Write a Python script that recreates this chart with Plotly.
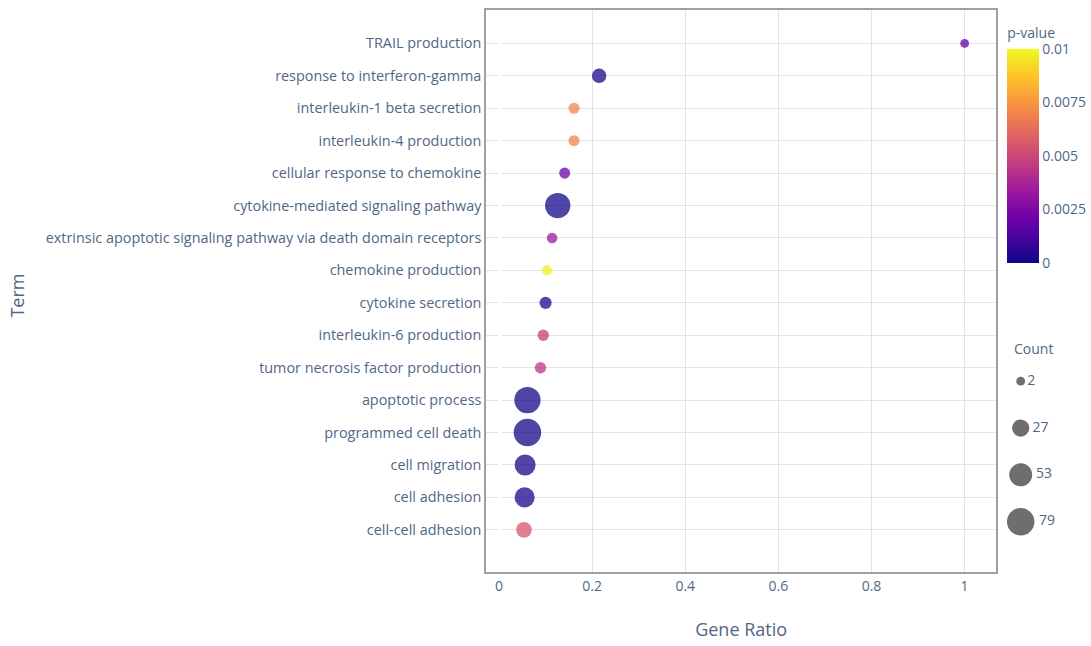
import numpy as np
import plotly.graph_objects as go

# GO enrichment results (top to bottom as displayed)
terms = [
    "TRAIL production",
    "response to interferon-gamma",
    "interleukin-1 beta secretion",
    "interleukin-4 production",
    "cellular response to chemokine",
    "cytokine-mediated signaling pathway",
    "extrinsic apoptotic signaling pathway via death domain receptors",
    "chemokine production",
    "cytokine secretion",
    "interleukin-6 production",
    "tumor necrosis factor production",
    "apoptotic process",
    "programmed cell death",
    "cell migration",
    "cell adhesion",
    "cell-cell adhesion",
]
gene_ratio = [1.0, 0.215, 0.161, 0.161, 0.141, 0.126, 0.114, 0.103,
              0.100, 0.095, 0.089, 0.061, 0.061, 0.056, 0.055, 0.0535]
counts = [2, 17, 7, 7, 7, 66, 6, 5, 10, 8, 8, 72, 79, 43, 39, 21]
p_values = [0.0020, 0.0002, 0.0070, 0.0070, 0.0021, 0.0001, 0.0034, 0.0098,
            0.0004, 0.0047, 0.0044, 0.0001, 0.0001, 0.0002, 0.0002, 0.0055]

# size legend entries
legend_counts = [2, 27, 53, 79]

FONT = "Open Sans"
TXT = "#506784"


def marker_diam(c):
    c = np.asarray(c, dtype=float)
    return 1.1 * np.sqrt(49.4 + 7.29 * c)


W, H = 1091, 646
L, R, T, B = 486, 10, 8, 74
pw = W - L - R
ph = H - T - B
main_right = (998 - L) / pw

fig = go.Figure()

fig.add_trace(go.Scatter(
    x=gene_ratio, y=list(range(len(terms))),
    mode="markers",
    marker=dict(
        size=marker_diam(counts),
        color=p_values,
        colorscale="Plasma",
        cmin=0, cmax=0.01,
        opacity=0.75,
        line=dict(width=0),
        colorbar=dict(
            title=dict(text="p-value", font=dict(family=FONT, size=14, color=TXT)),
            tickvals=[0, 0.0025, 0.005, 0.0075, 0.01],
            ticktext=["0", "0.0025", "0.005", "0.0075", "0.01"],
            tickfont=dict(family=FONT, size=14, color=TXT),
            thickness=32, len=(262 - 23) / ph, lenmode="fraction",
            x=(1009 - L) / pw, xanchor="left", xpad=0,
            y=(H - B - 23) / ph, yanchor="top", ypad=0,
            outlinewidth=0, ticks="", ticklen=0,
        ),
    ),
    text=terms,
    hovertemplate="%{text}<br>Gene Ratio: %{x}<extra></extra>",
    showlegend=False,
    xaxis="x", yaxis="y",
))

# Count size legend drawn with the same size mapping
fig.add_trace(go.Scatter(
    x=[0] * len(legend_counts),
    y=list(range(len(legend_counts))),
    mode="markers+text",
    marker=dict(size=marker_diam(legend_counts), color="#5e5e5e", opacity=0.9,
                line=dict(width=0)),
    text=[str(c) for c in legend_counts],
    textposition="middle right",
    textfont=dict(family=FONT, size=14, color=TXT),
    hoverinfo="skip",
    showlegend=False,
    xaxis="x2", yaxis="y2",
    cliponaxis=False,
))

fig.update_layout(
    width=W, height=H,
    margin=dict(l=L, r=R, t=T, b=B),
    paper_bgcolor="white", plot_bgcolor="white",
    font=dict(family=FONT, size=14, color=TXT),
    xaxis=dict(
        domain=[0, main_right],
        range=[-0.028, 1.068],
        tickvals=[0, 0.2, 0.4, 0.6, 0.8, 1],
        ticktext=["0", "0.2", "0.4", "0.6", "0.8", "1"],
        showgrid=True, gridcolor="#e3e3e3", gridwidth=1,
        zeroline=True, zerolinecolor="white", zerolinewidth=3,
        showline=True, linecolor="#a0a0a0", linewidth=1.5, mirror=True,
        ticks="", tickfont=dict(family=FONT, size=14, color=TXT),
        title=dict(text="Gene Ratio", font=dict(family=FONT, size=18, color=TXT), standoff=30),
    ),
    yaxis=dict(
        range=[16.30, -1.03],
        tickvals=list(range(len(terms))),
        ticktext=terms,
        showgrid=True, gridcolor="#e3e3e3", gridwidth=1,
        zeroline=False,
        showline=True, linecolor="#a0a0a0", linewidth=1.5, mirror=True,
        ticks="", tickfont=dict(family=FONT, size=14.4, color=TXT),
        ticklabelstandoff=0,
    ),
    xaxis2=dict(
        domain=[(1005 - L) / pw, (1040 - L) / pw],
        range=[-1, 1], visible=False, fixedrange=True,
    ),
    yaxis2=dict(
        domain=[(H - B - 545) / ph, (H - B - 357) / ph],
        range=[3.5, -0.5], visible=False, anchor="x2", fixedrange=True,
    ),
    annotations=[
        dict(text="Term", xref="paper", yref="paper", x=-(L - 15) / pw, y=(H - B - 295) / ph,
             textangle=-90, showarrow=False, font=dict(family=FONT, size=18, color=TXT),
             xanchor="center", yanchor="middle"),
        dict(text="Count", xref="paper", yref="paper", x=(1035 - L) / pw, y=(H - B - 348) / ph,
             showarrow=False, font=dict(family=FONT, size=14, color=TXT),
             xanchor="center", yanchor="middle"),
    ],
)

fig.write_html("out.html")
